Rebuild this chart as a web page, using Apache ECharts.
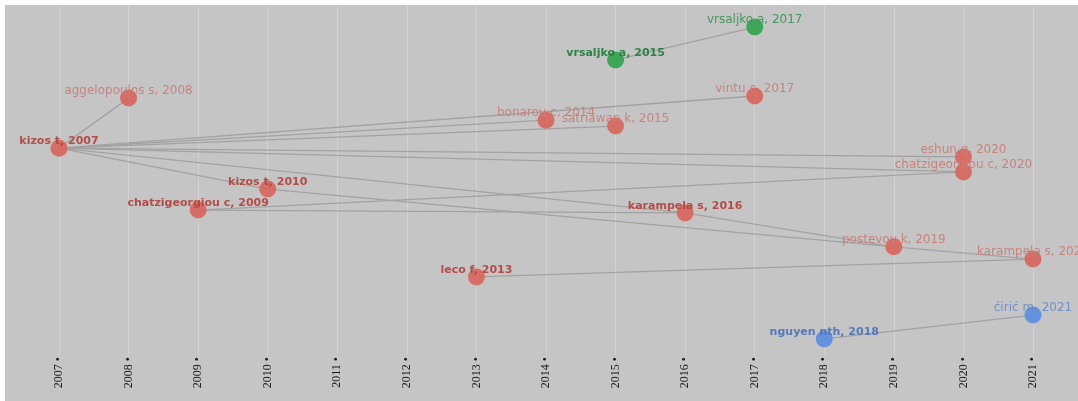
<!DOCTYPE html>
<html>
<head>
<meta charset="utf-8">
<script src="https://cdn.jsdelivr.net/npm/echarts@6/dist/echarts.min.js"></script>
<style>
    html, body { margin: 0; padding: 0; background: #fff; }
    #chart { position: absolute; left: 5px; top: 5px; width: 1073px; height: 396px; }
</style>
</head>
<body>
<div id="chart"></div>
<script>
// publication years on the axis
var years = [2007, 2008, 2009, 2010, 2011, 2012, 2013, 2014, 2015, 2016, 2017, 2018, 2019, 2020, 2021];

// documents (historiograph nodes)
var docNames = [
    'kizos t, 2007', 'aggelopoulos s, 2008', 'chatzigeorgiou c, 2009', 'kizos t, 2010',
    'leco f, 2013', 'bonarou c, 2014', 'satriawan k, 2015', 'vrsaljko a, 2015',
    'karampela s, 2016', 'vrsaljko a, 2017', 'vintu c, 2017', 'nguyen nth, 2018',
    'postevoy k, 2019', 'eshun g, 2020', 'chatzigeorgiou c, 2020', 'karampela s, 2021',
    'ćirić m, 2021'
];
var docYears = [2007, 2008, 2009, 2010, 2013, 2014, 2015, 2015, 2016, 2017, 2017, 2018, 2019, 2020, 2020, 2021, 2021];
var docLevels = [5.91, 7.34, 4.14, 4.74, 2.23, 6.71, 6.54, 8.43, 4.06, 9.37, 7.40, 0.46, 3.09, 5.66, 5.23, 2.74, 1.14];
var docCluster = [0, 0, 0, 0, 0, 0, 0, 1, 0, 1, 0, 2, 0, 0, 0, 0, 2];

// citation links (older -> newer)
var citeFrom = [
    'kizos t, 2007', 'kizos t, 2007', 'kizos t, 2007', 'kizos t, 2007', 'kizos t, 2007',
    'kizos t, 2007', 'kizos t, 2007', 'kizos t, 2007',
    'chatzigeorgiou c, 2009', 'chatzigeorgiou c, 2009',
    'kizos t, 2010', 'karampela s, 2016', 'postevoy k, 2019', 'leco f, 2013',
    'vrsaljko a, 2015', 'nguyen nth, 2018'
];
var citeTo = [
    'aggelopoulos s, 2008', 'bonarou c, 2014', 'satriawan k, 2015', 'vintu c, 2017', 'eshun g, 2020',
    'chatzigeorgiou c, 2020', 'kizos t, 2010', 'karampela s, 2016',
    'karampela s, 2016', 'chatzigeorgiou c, 2020',
    'postevoy k, 2019', 'postevoy k, 2019', 'karampela s, 2021', 'karampela s, 2021',
    'vrsaljko a, 2017', 'ćirić m, 2021'
];

// styling
var strongLabels = ['kizos t, 2007', 'chatzigeorgiou c, 2009', 'kizos t, 2010', 'leco f, 2013',
    'vrsaljko a, 2015', 'karampela s, 2016', 'nguyen nth, 2018'];
var nodeColors = ['#d8675f', '#32a64f', '#5b8fe0'];
var strongColors = ['#b1443e', '#1f7f3a', '#4a74b8'];
var lightColors = ['#c87e78', '#3a9455', '#6a8dc6'];

var chart = echarts.init(document.getElementById('chart'), null, { renderer: 'canvas' });

var nodes = docNames.map(function (n, i) {
    var strong = strongLabels.indexOf(n) >= 0;
    var c = docCluster[i];
    return {
        name: n,
        value: [docYears[i], docLevels[i]],
        itemStyle: { color: nodeColors[c], opacity: 0.93 },
        label: {
            color: strong ? strongColors[c] : lightColors[c],
            fontWeight: strong ? 'bold' : 'normal',
            fontSize: strong ? 11 : 12
        }
    };
});
var links = citeFrom.map(function (s, i) { return { source: s, target: citeTo[i] }; });

chart.setOption({
    backgroundColor: '#c5c5c5',
    animation: false,
    grid: { left: 54, right: 45, top: 0, bottom: 46 },
    xAxis: {
        type: 'value', min: 2007, max: 2021, interval: 1,
        axisLine: { show: false },
        axisTick: { show: false },
        axisLabel: {
            rotate: 90, margin: 2, fontSize: 12, color: '#1c1c1c',
            fontFamily: 'Liberation Serif',
            formatter: function (v) { return v + ' •'; }
        },
        splitLine: { show: true, lineStyle: { color: '#d2d2d2', width: 1 } }
    },
    yAxis: {
        type: 'value', min: 0, max: 10, show: false,
        splitLine: { show: false }
    },
    series: [{
        type: 'graph',
        coordinateSystem: 'cartesian2d',
        layout: 'none',
        symbol: 'circle',
        symbolSize: 17,
        data: nodes,
        links: links,
        lineStyle: { color: '#a2a2a2', width: 1.3, opacity: 1, curveness: 0 },
        label: {
            show: true,
            position: 'inside',
            offset: [0, -7],
            fontFamily: 'DejaVu Sans',
            formatter: '{b}'
        },
        emphasis: { disabled: true }
    }]
});

window.addEventListener('resize', function () { chart.resize(); });
</script>
</body>
</html>
